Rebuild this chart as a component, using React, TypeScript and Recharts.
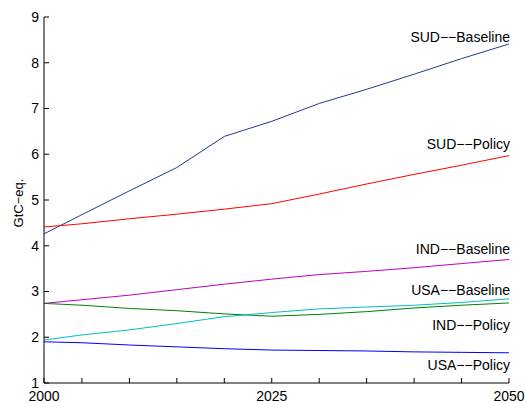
import React from 'react';
import { LineChart, Line, XAxis, YAxis, LabelList } from 'recharts';

// model periods (1 = 2000, 50 = 2050)
const periods = [1, 5, 10, 15, 20, 25, 30, 35, 40, 45, 50];
const sudBaseline = [4.26, 4.68, 5.2, 5.71, 6.39, 6.72, 7.11, 7.42, 7.75, 8.09, 8.41];
const sudPolicy = [4.41, 4.48, 4.59, 4.69, 4.8, 4.92, 5.13, 5.35, 5.56, 5.76, 5.97];
const indBaseline = [2.74, 2.82, 2.92, 3.04, 3.16, 3.27, 3.37, 3.44, 3.52, 3.61, 3.7];
const usaBaseline = [1.94, 2.05, 2.16, 2.3, 2.45, 2.54, 2.62, 2.66, 2.7, 2.76, 2.84];
const indPolicy = [2.74, 2.7, 2.63, 2.58, 2.51, 2.46, 2.5, 2.56, 2.64, 2.7, 2.75];
const usaPolicy = [1.9, 1.88, 1.83, 1.79, 1.75, 1.72, 1.71, 1.7, 1.68, 1.67, 1.66];

const xTicks = [1, 5, 10, 15, 20, 25, 30, 35, 40, 45, 50];
const xTickLabels: { [k: number]: string } = { 1: '2000', 25: '2025', 50: '2050' };
const yTicks = [1, 2, 3, 4, 5, 6, 7, 8, 9];

const FONT = '"Liberation Sans", Arial, Helvetica, sans-serif';

const data = periods.map((t, i) => ({
  t,
  sudB: sudBaseline[i],
  sudP: sudPolicy[i],
  indB: indBaseline[i],
  usaB: usaBaseline[i],
  indP: indPolicy[i],
  usaP: usaPolicy[i],
}));

const series = [
  { key: 'sudB', name: 'SUD−−Baseline', color: '#223A88', dy: -7 },
  { key: 'sudP', name: 'SUD−−Policy', color: '#FF0000', dy: -12 },
  { key: 'indB', name: 'IND−−Baseline', color: '#BF00BF', dy: -11 },
  { key: 'indP', name: 'IND−−Policy', color: '#008000', dy: 22 },
  { key: 'usaB', name: 'USA−−Baseline', color: '#00BFBF', dy: -9 },
  { key: 'usaP', name: 'USA−−Policy', color: '#0000FF', dy: 12 },
];

const BottomTick = (props: any) => {
  const { x, y, payload } = props;
  const label = xTickLabels[payload.value];
  return (
    <g>
      <line x1={x} y1={y} x2={x} y2={y - 5} stroke="#000" />
      {label && (
        <text x={x} y={y + 18} textAnchor="middle" fontSize={14} fill="#000" fontFamily={FONT}>
          {label}
        </text>
      )}
    </g>
  );
};

const TopTick = (props: any) => {
  const { x, y } = props;
  return <line x1={x} y1={y} x2={x} y2={y + 5} stroke="#000" />;
};

const LeftTick = (props: any) => {
  const { x, y, payload } = props;
  return (
    <g>
      <line x1={x} y1={y} x2={x + 5} y2={y} stroke="#000" />
      <text x={x - 5} y={y} dy="0.34em" textAnchor="end" fontSize={14} fill="#000" fontFamily={FONT}>
        {payload.value}
      </text>
    </g>
  );
};

const RightTick = (props: any) => {
  const { x, y } = props;
  return <line x1={x} y1={y} x2={x - 5} y2={y} stroke="#000" />;
};

const endLabel = (name: string, dy: number) => (props: any) => {
  const { x, y, index } = props;
  if (index !== periods.length - 1) return null;
  return (
    <text x={x + 1} y={y + dy} dy="0.36em" textAnchor="end" fontSize={14} fill="#000" fontFamily={FONT}>
      {name}
    </text>
  );
};

export default function App() {
  return (
    <div style={{ position: 'absolute', left: 0, top: 0, width: 526, height: 403, background: '#fff' }}>
      <LineChart width={526} height={403} data={data} margin={{ top: 17, right: 17, left: 0, bottom: 0 }}>
        <XAxis
          dataKey="t"
          type="number"
          domain={[1, 50]}
          ticks={xTicks}
          height={20}
          tickSize={0}
          tickMargin={0}
          tickLine={false}
          axisLine={{ stroke: '#000' }}
          tick={<BottomTick />}
          interval={0}
        />
        <XAxis
          xAxisId="top"
          dataKey="t"
          type="number"
          orientation="top"
          domain={[1, 50]}
          ticks={xTicks}
          height={0}
          tickSize={0}
          tickMargin={0}
          tickLine={false}
          axisLine={{ stroke: '#000' }}
          tick={<TopTick />}
          interval={0}
        />
        <YAxis
          type="number"
          domain={[1, 9]}
          ticks={yTicks}
          width={44}
          tickSize={0}
          tickMargin={0}
          tickLine={false}
          axisLine={{ stroke: '#000' }}
          tick={<LeftTick />}
          interval={0}
          label={{
            content: () => (
              <text
                x={18}
                y={203}
                transform="rotate(-90 18 203)"
                textAnchor="middle"
                dy="0.36em"
                fontSize={13}
                fill="#000"
                fontFamily={FONT}
              >
                GtC−eq.
              </text>
            ),
          }}
        />
        <YAxis
          yAxisId="right"
          orientation="right"
          type="number"
          domain={[1, 9]}
          ticks={yTicks}
          width={0}
          tickSize={0}
          tickMargin={0}
          tickLine={false}
          axisLine={{ stroke: '#000' }}
          tick={<RightTick />}
          interval={0}
        />
        {series.map((s) => (
          <Line
            key={s.key}
            type="linear"
            dataKey={s.key}
            stroke={s.color}
            strokeWidth={1}
            dot={false}
            isAnimationActive={false}
          >
            <LabelList dataKey={s.key} content={endLabel(s.name, s.dy)} />
          </Line>
        ))}
      </LineChart>
    </div>
  );
}
